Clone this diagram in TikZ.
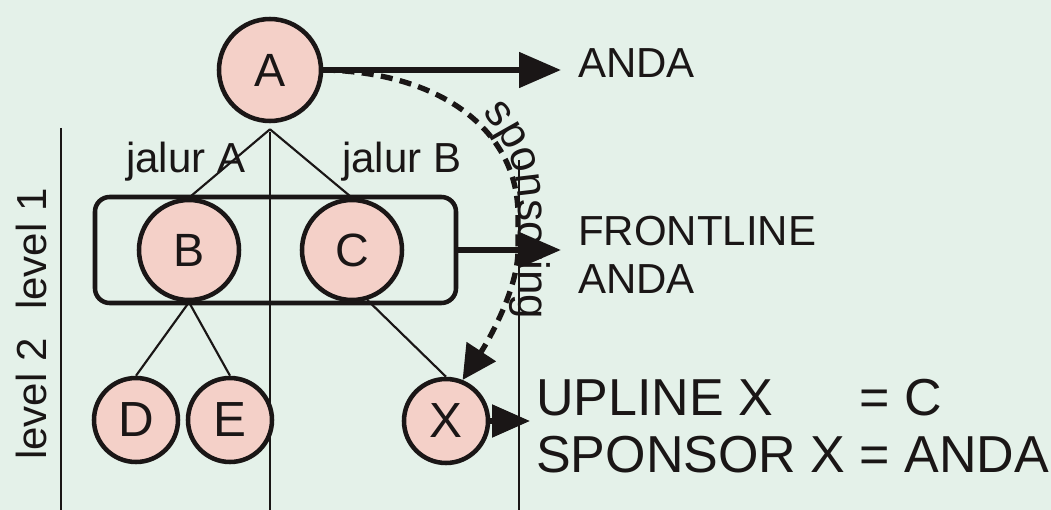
\documentclass[tikz,border=0pt]{standalone}
\usepackage{fontspec}
\setmainfont{Liberation Sans}
\usetikzlibrary{arrows.meta,decorations.text}
\definecolor{bgc}{RGB}{228,241,233}
\definecolor{pinkc}{RGB}{244,208,200}
\definecolor{inkc}{RGB}{26,22,22}
\begin{document}
\begin{tikzpicture}[x=0.75pt,y=-0.75pt,
  ball/.style={circle, draw=inkc, line width=3.4pt, fill=pinkc, inner sep=0pt,
    minimum size=76.5pt, text=inkc, font=\fontsize{35}{35}\selectfont},
  smallball/.style={ball, minimum size=63pt, font=\fontsize{37}{37}\selectfont},
  treeline/.style={draw=inkc, line width=1.6pt},
  guide/.style={draw=inkc, line width=1.8pt},
  bigarrow/.style={draw=inkc, line width=4.5pt, -{Triangle[length=31.5pt,width=26pt]}},
  lbl/.style={text=inkc, inner sep=0pt, font=\fontsize{31.5}{31.5}\selectfont},
]
\fill[bgc] (0,0) rectangle (1051,510);
\useasboundingbox (0,0) rectangle (1051,510);

% guide lines
\coordinate (g1t) at (61,128);  \coordinate (g1b) at (61,510);
\coordinate (g2t) at (270,132); \coordinate (g2b) at (270,510);
\coordinate (g3t) at (519,160); \coordinate (g3b) at (519,510);
\draw[guide] (g1t) -- (g1b);
\draw[guide] (g2t) -- (g2b);
\draw[guide] (g3t) -- (g3b);

% frontline box
\node[draw=inkc, line width=3.4pt, rounded corners=11pt, minimum width=270.75pt,
      minimum height=79.5pt, inner sep=0pt] (box) at (275.5,250) {};

% members
\node[ball] (A) at (270,70) {A};
\node[ball, minimum size=75pt] (B) at (189,250) {B};
\node[ball, minimum size=75pt] (C) at (352,250) {C};
\node[smallball] (D) at (136,420) {D};
\node[smallball] (E) at (230,420) {E};
\node[smallball] (X) at (446,421) {X};

\coordinate (Aj) at ([yshift=-4.5pt]A.south);
\draw[treeline] (Aj) -- (B.north);
\draw[treeline] (Aj) -- (C.north);
\draw[treeline] (B.south) -- (D.north);
\draw[treeline] (B.south) -- (E.north);
\draw[treeline] (C.-73) -- (X.north);

% labels
\node[lbl, anchor=base west] (ja) at (126,173) {jalur A};
\node[lbl, anchor=base west] (jb) at (342,173) {jalur B};
\node[lbl, rotate=90] (l1) at (31,249) {level 1};
\node[lbl, rotate=90] (l2) at (31,399) {level 2};

\node[lbl, anchor=base west, inner xsep=12.75pt] (anda) at (561,78) {ANDA};
\node[lbl, anchor=base west, inner xsep=12.75pt] (front) at (561,245) {FRONTLINE};
\node[lbl, anchor=base west, inner xsep=12.75pt] (front2) at (561,293) {ANDA};
\node[text=inkc, anchor=base west, inner sep=0pt, inner xsep=4.5pt,
      font=\fontsize{39}{42.75}\selectfont] (info) at (530,415)
  {\begin{tabular}[t]{@{}l@{}l@{}}UPLINE X&~= C\\SPONSOR X&~= ANDA\end{tabular}};

% arrows
\draw[bigarrow] (A.east) -- (A.east -| anda.base west);
\draw[bigarrow] (box.east) -- (box.east -| front.base west);
\draw[draw=inkc, line width=4pt, -{Triangle[length=28.5pt,width=24pt]}]
  (X.east) -- (X.east -| info.base west);

% sponsoring
\draw[draw=inkc, line width=4pt, dash pattern=on 9pt off 5.5pt,
      -{Triangle[length=25.5pt,width=25.5pt]}]
  (A.east) .. controls (440,72) and (518,130) .. (518,215)
  -- (518,250) .. controls (518,290) and (487,343) .. (X.68);
\coordinate (s0) at (482,113);
\coordinate (s1) at (518,205);
\coordinate (s2) at (518,345);
\path[decorate, decoration={text along path, text align=left,
      text={|\color{inkc}\fontsize{33}{33}\selectfont|sponsoring}}]
  (s0) .. controls (500,134) and (518,160) .. (s1) -- (s2);
\end{tikzpicture}
\end{document}
